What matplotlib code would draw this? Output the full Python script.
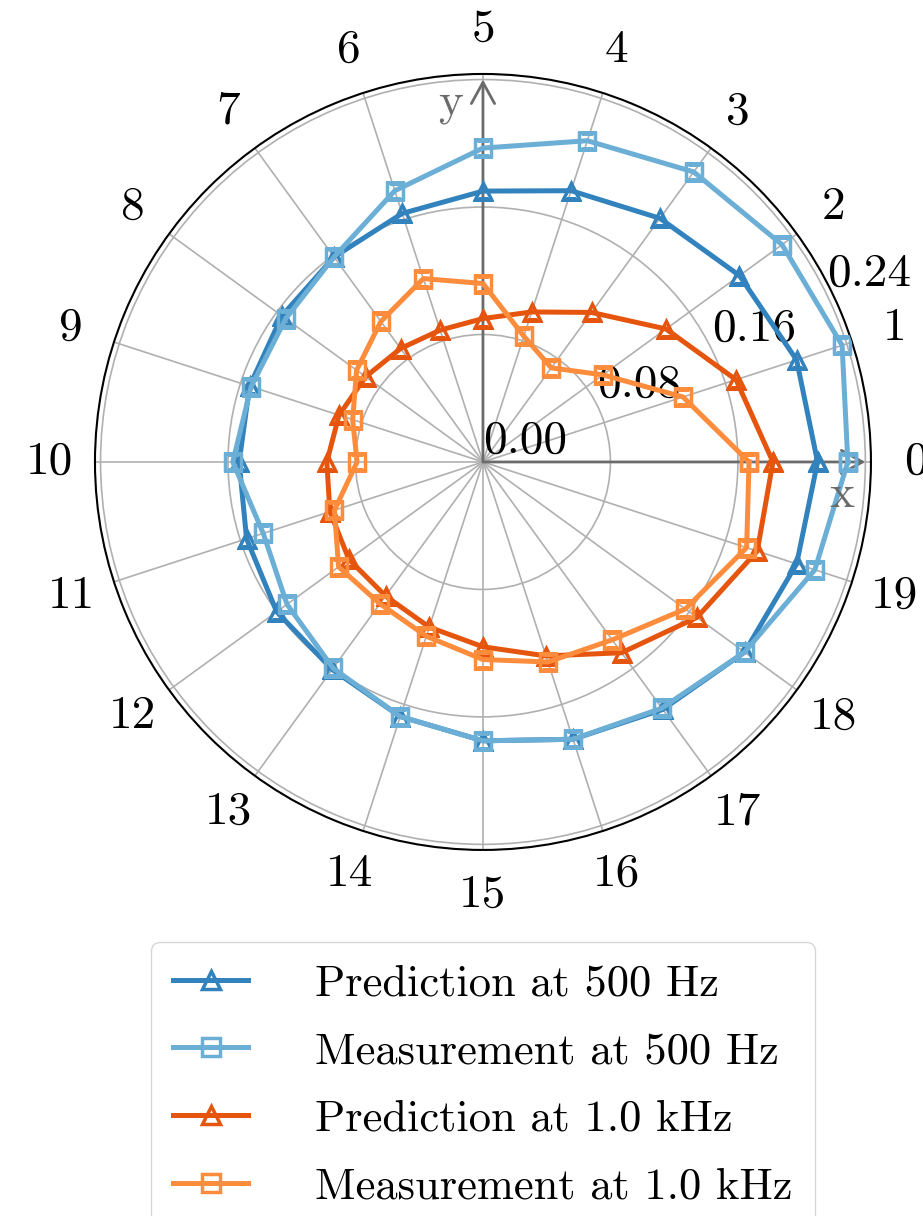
"""
Polar directivity plot: predicted vs measured levels at 20 microphone
positions, for 500 Hz and 1.0 kHz.
"""

import numpy as np
import matplotlib
matplotlib.use('Agg')
import matplotlib.pyplot as plt

# ── Style ──────────────────────────────────────────────────────────────────────
plt.rcParams.update({
    'font.family':        'serif',
    'font.serif':         ['cmr10', 'DejaVu Serif'],
    'mathtext.fontset':   'cm',
    'axes.unicode_minus': False,
    'axes.formatter.use_mathtext': True,
    'font.size':          34,
})

# ── Data ───────────────────────────────────────────────────────────────────────
positions = list(range(20))                       # mic index, 18 deg apart
position_labels = [str(p) for p in positions]

pred_500 = [0.210, 0.207, 0.199, 0.189, 0.179, 0.170, 0.164, 0.159, 0.156, 0.154,
            0.153, 0.156, 0.160, 0.161, 0.168, 0.175, 0.183, 0.192, 0.203, 0.207]
meas_500 = [0.229, 0.237, 0.232, 0.225, 0.212, 0.197, 0.179, 0.159, 0.153, 0.153,
            0.157, 0.145, 0.152, 0.160, 0.168, 0.175, 0.183, 0.191, 0.203, 0.219]
pred_1k  = [0.182, 0.167, 0.142, 0.116, 0.099, 0.090, 0.087, 0.088, 0.091, 0.095,
            0.098, 0.101, 0.104, 0.104, 0.109, 0.116, 0.128, 0.148, 0.166, 0.181]
meas_1k  = [0.167, 0.132, 0.093, 0.073, 0.083, 0.112, 0.121, 0.109, 0.098, 0.086,
            0.079, 0.098, 0.112, 0.110, 0.115, 0.124, 0.132, 0.138, 0.157, 0.174]

r_ticks = [0.00, 0.08, 0.16, 0.24]

series = [
    ('Prediction at 500 Hz',   pred_500, '#3182bd', '^'),
    ('Measurement at 500 Hz',  meas_500, '#6baed6', 's'),
    ('Prediction at 1.0 kHz',  pred_1k,  '#e6550d', '^'),
    ('Measurement at 1.0 kHz', meas_1k,  '#fd8d3c', 's'),
]

# ── Figure ─────────────────────────────────────────────────────────────────────
fig = plt.figure(figsize=(9.23, 12.16), dpi=100)
ax = fig.add_axes([0.1029, 0.3010, 0.8407, 0.6382], projection='polar')

theta_deg = np.array(positions) * 360.0 / len(positions)
theta = np.deg2rad(np.append(theta_deg, theta_deg[0]))   # close the loop

for label, vals, color, marker in series:
    ax.plot(theta, vals + vals[:1], color=color, lw=3.6, marker=marker,
            ms=11, mew=2.5, fillstyle='none', label=label, zorder=3)

ax.set_thetagrids(theta_deg, position_labels)
ax.set_rticks(r_ticks)
ax.set_yticklabels([f'{r:.2f}' for r in r_ticks])
ax.set_rlim(0, 0.2435)
ax.set_rlabel_position(26)
ax.tick_params(axis='x', pad=22)
ax.grid(True, color='#b0b0b0', lw=1.2)
ax.spines['polar'].set_linewidth(1.5)

# x / y axis arrows
arrow_color = '#6b6b6b'
for ang, name, off in [(0.0, 'x', (-23, -33)), (np.pi / 2, 'y', (-32, -24))]:
    ax.annotate('', xy=(ang, 0.24), xytext=(0, 0),
                arrowprops=dict(arrowstyle='->, head_length=0.4, head_width=0.22',
                                color=arrow_color, lw=2, mutation_scale=38,
                                shrinkA=0, shrinkB=0), zorder=2)
    ax.annotate(name, xy=(ang, 0.24), xytext=off, textcoords='offset pixels',
                ha='center', va='center', color=arrow_color, fontsize=34)

fig.legend(loc='upper center', bbox_to_anchor=(0.523, 0.2253), borderaxespad=0,
           borderpad=0.5, handlelength=1.7, handletextpad=1.5, labelspacing=0.62,
           markerscale=1.15, fontsize=32)

fig.savefig('out.png', dpi=100)
